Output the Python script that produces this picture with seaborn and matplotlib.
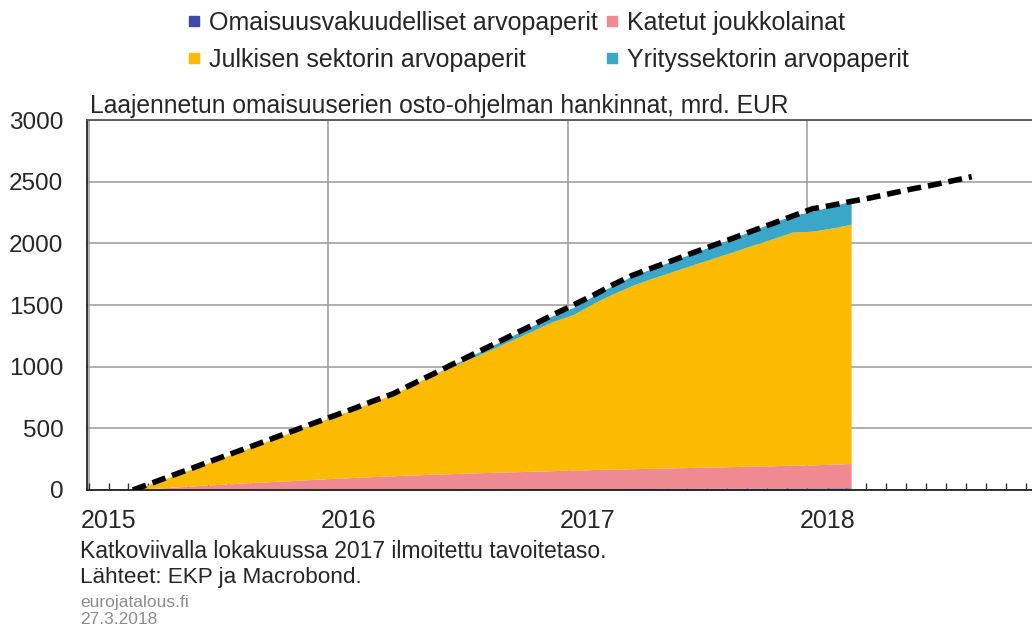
"""
Laajennetun omaisuuserien osto-ohjelman hankinnat (stacked area + target line).
"""

import pandas as pd
import seaborn as sns
import matplotlib.pyplot as plt
import matplotlib.dates as mdates
import matplotlib.transforms as mtransforms
from matplotlib.lines import Line2D


# Monthly observations, mrd. EUR (cumulative since March 2015)
start_date = "2015-03-09"
abs_vals = [0, 1, 1, 2, 2, 2, 3, 3, 3, 4, 4, 5, 5, 6, 6, 7, 7, 8, 8, 9, 9,
            10, 10, 11, 11, 12, 12, 13, 13, 14, 14, 15, 15, 16, 16, 17, 17]
cbpp_vals = [2, 12, 22, 32, 41, 50, 58, 66, 74, 82, 90, 97, 104, 110, 116,
             121, 126, 131, 135, 139, 143, 147, 151, 155, 158, 161, 164, 167,
             170, 173, 176, 179, 182, 185, 188, 193, 198]
pspp_vals = [3, 42, 92, 141, 192, 243, 294, 346, 398, 449, 501, 553, 606, 659,
             733, 806, 872, 936, 1004, 1072, 1141, 1210, 1262, 1349, 1418,
             1486, 1540, 1590, 1640, 1690, 1740, 1790, 1840, 1890, 1895, 1915,
             1940]
cspp_vals = [0, 0, 0, 0, 0, 0, 0, 0, 0, 0, 0, 0, 0, 0, 0, 1, 10, 20, 28, 35,
             42, 48, 56, 60, 68, 76, 80, 88, 95, 103, 110, 120, 130, 135, 160,
             180, 185]

# Target level announced in October 2017
target_vals = [0, 60, 120, 180, 240, 300, 360, 420, 480, 540, 600, 660, 720,
               780, 860, 940, 1020, 1100, 1180, 1260, 1340, 1420, 1500, 1580,
               1660, 1740, 1800, 1860, 1920, 1980, 2040, 2100, 2160, 2220,
               2280, 2310, 2340, 2370, 2405, 2440, 2470, 2505, 2540]

series_names = ["Omaisuusvakuudelliset arvopaperit", "Katetut joukkolainat",
                "Julkisen sektorin arvopaperit", "Yrityssektorin arvopaperit"]
series_colors = ["#3D4BA5", "#F08A92", "#FDBB00", "#3AA6C8"]


def build_frames():
    dates = pd.date_range(start_date, periods=len(abs_vals),
                          freq=pd.DateOffset(months=1))
    stack = pd.DataFrame({series_names[0]: abs_vals,
                          series_names[1]: cbpp_vals,
                          series_names[2]: pspp_vals,
                          series_names[3]: cspp_vals}, index=dates)
    tdates = pd.date_range(start_date, periods=len(target_vals),
                           freq=pd.DateOffset(months=1))
    target = pd.DataFrame({"date": tdates, "value": target_vals})
    return stack, target


def main():
    sns.set_style("white")
    plt.rcParams["font.family"] = ["Liberation Sans", "DejaVu Sans"]

    stack, target = build_frames()

    fig = plt.figure(figsize=(10.32, 6.30), dpi=100)
    ax = fig.add_axes([87 / 1032, 140 / 630, 945 / 1032, 370 / 630])

    # Areas
    ax.stackplot(stack.index, [stack[c] for c in series_names],
                 colors=series_colors, linewidth=0, zorder=2)

    # Target line
    sns.lineplot(data=target, x="date", y="value", ax=ax, color="black",
                 linewidth=4.0, dashes=False, zorder=3)
    ax.lines[-1].set_dashes((2.5, 1.25))

    # Axes limits and grid
    ax.set_ylim(0, 3000)
    ax.set_xlim(pd.Timestamp("2014-12-29"), pd.Timestamp("2018-12-10"))
    ax.set_yticks(range(0, 3001, 500))
    ax.grid(axis="both", color="#9a9a9a", linewidth=1.1, zorder=0)
    ax.set_axisbelow(True)

    ax.xaxis.set_major_locator(mdates.YearLocator())
    ax.xaxis.set_major_formatter(mdates.DateFormatter("%Y"))
    ax.xaxis.set_minor_locator(mdates.MonthLocator())
    ax.tick_params(axis="x", which="both", direction="in", length=5,
                   width=1, color="#333333", bottom=True, pad=14,
                   labelsize=18)
    ax.tick_params(axis="y", length=0, pad=17, labelsize=17.5)

    offset = mtransforms.ScaledTranslation(20 / 100, 0, fig.dpi_scale_trans)
    for lab in ax.get_xticklabels():
        lab.set_transform(lab.get_transform() + offset)

    for side in ["left", "bottom"]:
        ax.spines[side].set_color("#222222")
        ax.spines[side].set_linewidth(1.3)
    ax.spines["top"].set_color("#555555")
    ax.spines["top"].set_linewidth(1.3)
    ax.spines["right"].set_visible(False)

    ax.set_xlabel("")
    ax.set_ylabel("")
    ax.set_title("Laajennetun omaisuuserien osto-ohjelman hankinnat, mrd. EUR",
                 loc="left", fontsize=17.7, pad=5, x=0.003)

    # Legend
    handles = [Line2D([], [], marker="s", linestyle="none", markersize=7,
                      markerfacecolor=c, markeredgecolor=c)
               for c in series_colors]
    order = [0, 2, 1, 3]
    fig.legend([handles[i] for i in order], [series_names[i] for i in order],
               loc="upper left", bbox_to_anchor=(188 / 1032, 1 - 11 / 630),
               ncol=2, frameon=False, fontsize=18, handlelength=0.5,
               handletextpad=0.35, columnspacing=0.3, labelspacing=0.5,
               borderpad=0, borderaxespad=0)

    # Notes
    fig.text(80 / 1032, 1 - 551 / 630,
             "Katkoviivalla lokakuussa 2017 ilmoitettu tavoitetaso.",
             fontsize=16.5, va="center", ha="left")
    fig.text(80 / 1032, 1 - 578 / 630, "Lähteet: EKP ja Macrobond.",
             fontsize=16.2, va="center", ha="left")
    fig.text(80 / 1032, 1 - 602 / 630, "eurojatalous.fi",
             fontsize=12.5, va="center", ha="left", color="#8c8c8c")
    fig.text(80 / 1032, 1 - 620 / 630, "27.3.2018",
             fontsize=12.5, va="center", ha="left", color="#8c8c8c")

    fig.savefig("out.png", dpi=100)


if __name__ == "__main__":
    main()
